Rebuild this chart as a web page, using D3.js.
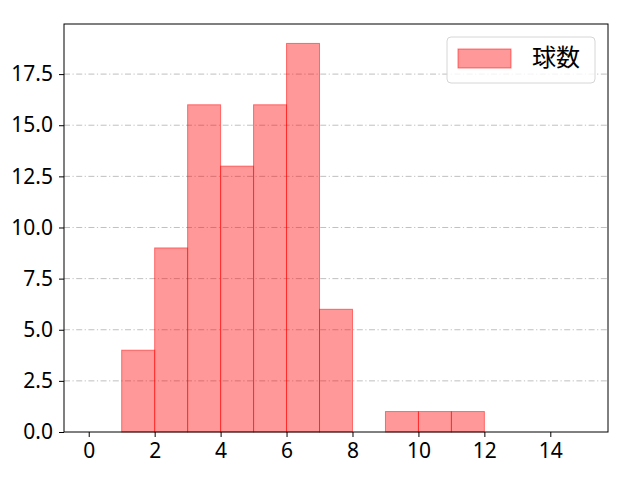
<!DOCTYPE html>
<html>
<head>
<meta charset="utf-8">
<script src="https://cdn.jsdelivr.net/npm/d3@7"></script>
<style>
body { margin: 0; background: #fff; }
text { font-family: "Noto Sans", sans-serif; }
</style>
</head>
<body>
<div id="chart"></div>
<script>
// histogram bins (left edges) and counts
var binStarts = [0, 1, 2, 3, 4, 5, 6, 7, 8, 9, 10, 11, 12, 13, 14];
var counts = [0, 4, 9, 16, 13, 16, 19, 6, 0, 1, 1, 1, 0, 0, 0];
var xTicks = [0, 2, 4, 6, 8, 10, 12, 14];
var yTicks = [0, 2.5, 5, 7.5, 10, 12.5, 15, 17.5];
var seriesName = "球数";

var W = 640, H = 480;
var margin = {top: 24, right: 32, bottom: 48, left: 64};
var width = W - margin.left - margin.right,
    height = H - margin.top - margin.bottom;

var svg = d3.select("#chart")
  .append("svg")
    .attr("width", W)
    .attr("height", H)
  .append("g")
    .attr("transform", "translate(" + margin.left + "," + margin.top + ")");

var x = d3.scaleLinear()
  .domain([-0.75, 15.75])
  .range([0, width]);

var y = d3.scaleLinear()
  .domain([0, 19 * 1.05])
  .range([height, 0]);

// grid lines
svg.selectAll("line.grid")
  .data(yTicks.slice(1))
  .enter()
  .append("line")
    .attr("x1", 0)
    .attr("x2", width)
    .attr("y1", function(d) { return y(d); })
    .attr("y2", function(d) { return y(d); })
    .attr("stroke", "#b0b0b0")
    .attr("stroke-width", 0.8)
    .attr("stroke-dasharray", "6,2.5,1.2,2.5");

// bars
svg.selectAll("rect.bar")
  .data(counts)
  .enter()
  .append("rect")
    .attr("x", function(d, i) { return x(binStarts[i]); })
    .attr("y", function(d) { return y(d); })
    .attr("width", function(d, i) { return x(binStarts[i] + 1) - x(binStarts[i]); })
    .attr("height", function(d) { return height - y(d); })
    .attr("fill", "rgba(255,0,0,0.4)")
    .attr("stroke", "rgba(255,0,0,0.5)")
    .attr("stroke-width", 1);

// X axis
var xAxis = svg.append("g")
  .attr("transform", "translate(0," + height + ")")
  .call(d3.axisBottom(x).tickValues(xTicks).tickSize(5).tickPadding(6).tickFormat(d3.format("d")));
xAxis.select(".domain").remove();
xAxis.selectAll("text").style("font-size", "21px").attr("fill", "#000");
xAxis.selectAll("line").attr("stroke", "#000").attr("stroke-width", 1);

// Y axis
var yAxis = svg.append("g")
  .call(d3.axisLeft(y).tickValues(yTicks).tickSize(5).tickPadding(6).tickFormat(d3.format(".1f")));
yAxis.select(".domain").remove();
yAxis.selectAll("text").style("font-size", "21px").attr("fill", "#000");
yAxis.selectAll("line").attr("stroke", "#000").attr("stroke-width", 1);

// frame
svg.append("rect")
  .attr("x", 0)
  .attr("y", 0)
  .attr("width", width)
  .attr("height", height)
  .attr("fill", "none")
  .attr("stroke", "#000")
  .attr("stroke-width", 1);

// legend
var lg = svg.append("g").attr("transform", "translate(" + (447 - margin.left) + "," + (37 - margin.top) + ")");
lg.append("rect")
  .attr("width", 148)
  .attr("height", 46)
  .attr("rx", 4)
  .attr("fill", "rgba(255,255,255,0.8)")
  .attr("stroke", "#d6d6d6");
lg.append("rect")
  .attr("x", 11)
  .attr("y", 12)
  .attr("width", 53)
  .attr("height", 19)
  .attr("fill", "rgba(255,0,0,0.4)")
  .attr("stroke", "rgba(255,0,0,0.5)");
lg.append("text")
  .attr("x", 85)
  .attr("y", 29)
  .style("font-family", "'Noto Sans CJK JP', sans-serif")
  .style("font-size", "24px")
  .text(seriesName);
</script>
</body>
</html>
